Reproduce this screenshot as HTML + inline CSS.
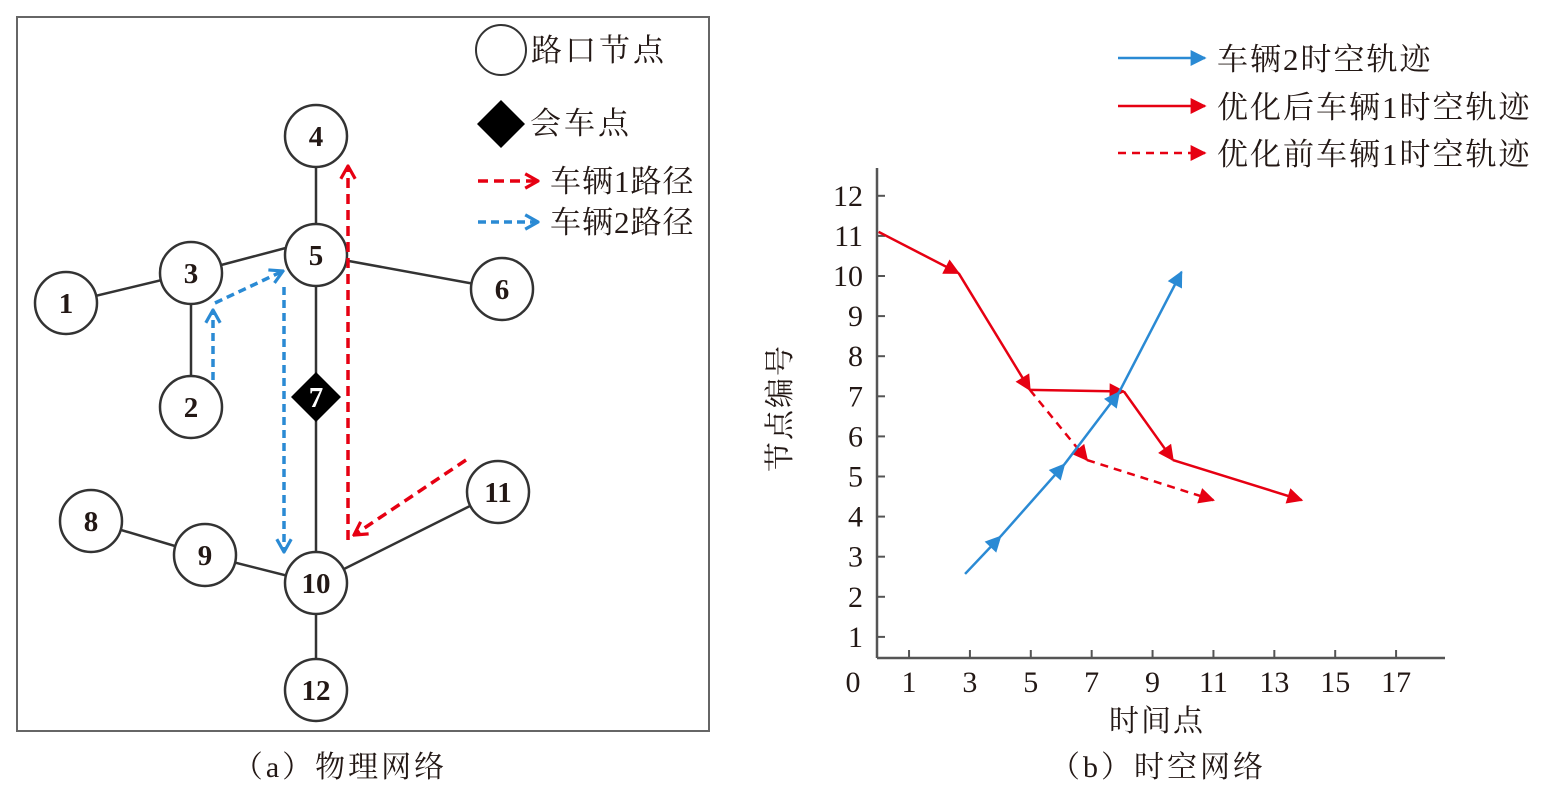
<!DOCTYPE html>
<html><head><meta charset="utf-8"><style>
html,body{margin:0;padding:0;background:#fff;}
svg{display:block;}
text{font-family:"Liberation Serif","Noto Serif CJK SC",serif;fill:#231815;}
</style></head><body>
<svg width="1559" height="794" viewBox="0 0 1559 794">
<defs>
<marker id="tri-red" viewBox="0 0 10 10" refX="9" refY="5" markerWidth="22" markerHeight="16" markerUnits="userSpaceOnUse" orient="auto"><path d="M0,0 L10,5 L0,10 z" fill="#e60012"/></marker>
<marker id="tri-blue" viewBox="0 0 10 10" refX="9" refY="5" markerWidth="22" markerHeight="16" markerUnits="userSpaceOnUse" orient="auto"><path d="M0,0 L10,5 L0,10 z" fill="#2a8ad4"/></marker>
<marker id="chev-red" viewBox="0 0 10 10" refX="9" refY="5" markerWidth="16" markerHeight="20" markerUnits="userSpaceOnUse" orient="auto"><path d="M1,0.5 L9,5 L1,9.5" fill="none" stroke="#e60012" stroke-width="2"/></marker>
<marker id="chev-blue" viewBox="0 0 10 10" refX="9" refY="5" markerWidth="16" markerHeight="20" markerUnits="userSpaceOnUse" orient="auto"><path d="M1,0.5 L9,5 L1,9.5" fill="none" stroke="#2a8ad4" stroke-width="2"/></marker>
</defs>

<!-- Panel A -->
<g>
<rect x="17" y="17" width="692" height="714" fill="none" stroke="#666" stroke-width="2"/>
<g stroke="#333" stroke-width="2.5">
<line x1="66" y1="303" x2="191" y2="273"/>
<line x1="191" y1="273" x2="316" y2="240"/>
<line x1="191" y1="273" x2="191" y2="407"/>
<line x1="316" y1="136" x2="316" y2="255"/>
<line x1="316" y1="255" x2="502" y2="289"/>
<line x1="316" y1="255" x2="316" y2="583"/>
<line x1="91" y1="521" x2="205" y2="555"/>
<line x1="205" y1="555" x2="316" y2="583"/>
<line x1="316" y1="583" x2="498" y2="492"/>
<line x1="316" y1="583" x2="316" y2="690"/>
</g>
<g fill="#fff" stroke="#333" stroke-width="2.5">
<circle cx="66" cy="303" r="31"/>
<circle cx="191" cy="407" r="31"/>
<circle cx="191" cy="273" r="31"/>
<circle cx="316" cy="136" r="31"/>
<circle cx="316" cy="255" r="31"/>
<circle cx="502" cy="289" r="31"/>
<circle cx="91" cy="521" r="31"/>
<circle cx="205" cy="555" r="31"/>
<circle cx="316" cy="583" r="31"/>
<circle cx="498" cy="492" r="31"/>
<circle cx="316" cy="690" r="31"/>
</g>
<path d="M316,372 L341,397 L316,422 L291,397 z" fill="#000"/>
<g font-size="29" font-weight="bold" text-anchor="middle">
<text x="66" y="313">1</text><text x="191" y="417">2</text><text x="191" y="283">3</text>
<text x="316" y="146">4</text><text x="316" y="265">5</text><text x="502" y="299">6</text>
<text x="316" y="407" style="fill:#fff">7</text><text x="91" y="531">8</text><text x="205" y="565">9</text>
<text x="316" y="593">10</text><text x="498" y="502">11</text><text x="316" y="700">12</text>
</g>
<g fill="none" stroke-width="3.5">
<line x1="466" y1="460" x2="354" y2="535" stroke="#e60012" stroke-dasharray="10,6" marker-end="url(#chev-red)"/>
<line x1="348" y1="540" x2="348" y2="166" stroke="#e60012" stroke-dasharray="10,6" marker-end="url(#chev-red)"/>
<line x1="213" y1="380" x2="213" y2="310" stroke="#2a8ad4" stroke-dasharray="8,5" marker-end="url(#chev-blue)"/>
<line x1="215" y1="303" x2="283" y2="271" stroke="#2a8ad4" stroke-dasharray="8,5" marker-end="url(#chev-blue)"/>
<line x1="284" y1="287" x2="284" y2="552" stroke="#2a8ad4" stroke-dasharray="8,5" marker-end="url(#chev-blue)"/>
</g>
<g>
<circle cx="501" cy="50" r="25" fill="#fff" stroke="#333" stroke-width="2"/>
<text x="531" y="61" font-size="31" letter-spacing="3">路口节点</text>
<path d="M501,100 L525,124 L501,148 L477,124 z" fill="#000"/>
<text x="530" y="134" font-size="31" letter-spacing="3">会车点</text>
<line x1="478" y1="181" x2="538" y2="181" stroke="#e60012" stroke-width="3.5" stroke-dasharray="10,6" marker-end="url(#chev-red)"/>
<text x="550" y="192" font-size="31" letter-spacing="1">车辆1路径</text>
<line x1="478" y1="222" x2="538" y2="222" stroke="#2a8ad4" stroke-width="3.5" stroke-dasharray="8,5" marker-end="url(#chev-blue)"/>
<text x="550" y="233" font-size="31" letter-spacing="1">车辆2路径</text>
</g>
<text x="340" y="777" font-size="30" letter-spacing="3" text-anchor="middle">（a）物理网络</text>
</g>

<!-- Panel B -->
<g id="chart">
<line x1="877" y1="168" x2="877" y2="658" stroke="#555" stroke-width="2.5"/>
<line x1="877" y1="658" x2="1445" y2="658" stroke="#555" stroke-width="2.5"/>
<text x="853" y="692" font-size="30" text-anchor="middle">0</text>
<text x="790" y="408" font-size="30" letter-spacing="2" text-anchor="middle" transform="rotate(-90 790 408)">节点编号</text>
<text x="1157" y="731" font-size="30" letter-spacing="2" text-anchor="middle">时间点</text>
<g id="ticks"></g>
<g id="series"></g>
<g>
<line x1="1118" y1="58" x2="1205" y2="58" stroke="#2a8ad4" stroke-width="2.5" marker-end="url(#tri-blue)"/>
<text x="1217" y="70" font-size="31" letter-spacing="2">车辆2时空轨迹</text>
<line x1="1118" y1="106" x2="1205" y2="106" stroke="#e60012" stroke-width="2.5" marker-end="url(#tri-red)"/>
<text x="1217" y="118" font-size="31" letter-spacing="2">优化后车辆1时空轨迹</text>
<line x1="1118" y1="153" x2="1205" y2="153" stroke="#e60012" stroke-width="2.5" stroke-dasharray="8,6" marker-end="url(#tri-red)"/>
<text x="1217" y="165" font-size="31" letter-spacing="2">优化前车辆1时空轨迹</text>
</g>
<text x="1158" y="777" font-size="30" letter-spacing="3" text-anchor="middle">（b）时空网络</text>
</g>
</svg>
<script>
const xTicks=[1,3,5,7,9,11,13,15,17];
const yTicks=[1,2,3,4,5,6,7,8,9,10,11,12];
const v2T=[2.84,4.0,6.1,7.9,9.95];
const v2N=[2.57,3.5,5.3,7.1,10.1];
const v1OptT=[0,2.63,4.97,8.06,9.67,13.9];
const v1OptN=[11.1,10.07,7.16,7.12,5.41,4.41];
const v1OrigT=[4.97,6.85,11.0];
const v1OrigN=[7.16,5.41,4.41];
const NS='http://www.w3.org/2000/svg';
function X(v){return 878.6+30.44*v;}
function Y(v){return 677-40.1*v;}
function mk(tag,attrs){const e=document.createElementNS(NS,tag);for(const k in attrs)e.setAttribute(k,attrs[k]);return e;}
const tg=document.getElementById('ticks');
xTicks.forEach(t=>{
 const l=mk('line',{x1:X(t),x2:X(t),y1:658,y2:650,stroke:'#555','stroke-width':2});
 
 
 tg.appendChild(l);
 const s=mk('text',{x:X(t),y:692,'font-size':30,'text-anchor':'middle'});s.textContent=t;
 
 
 tg.appendChild(s);
});
yTicks.forEach(t=>{
 const l=mk('line',{x1:877,x2:885,y1:Y(t),y2:Y(t),stroke:'#555','stroke-width':2});
 
 
 tg.appendChild(l);
 const s=mk('text',{x:863,y:Y(t)+10,'font-size':30,'text-anchor':'end'});s.textContent=t;
 
 
 tg.appendChild(s);
});
const sg=document.getElementById('series');
function drawSeries(T,N,color,marker,dash,name){
 for(let i=0;i<T.length-1;i++){
  const a={x1:X(T[i]),y1:Y(N[i]),x2:X(T[i+1]),y2:Y(N[i+1]),stroke:color,'stroke-width':2.5,'marker-end':'url(#'+marker+')'};
  if(dash)a['stroke-dasharray']=dash;
  const l=mk('line',a);
  
  
  sg.appendChild(l);
 }
}
drawSeries(v1OrigT,v1OrigN,'#e60012','tri-red','8,6','vehicle1-original');
drawSeries(v1OptT,v1OptN,'#e60012','tri-red',null,'vehicle1-optimized');
drawSeries(v2T,v2N,'#2a8ad4','tri-blue',null,'vehicle2');
</script>
</body></html>
